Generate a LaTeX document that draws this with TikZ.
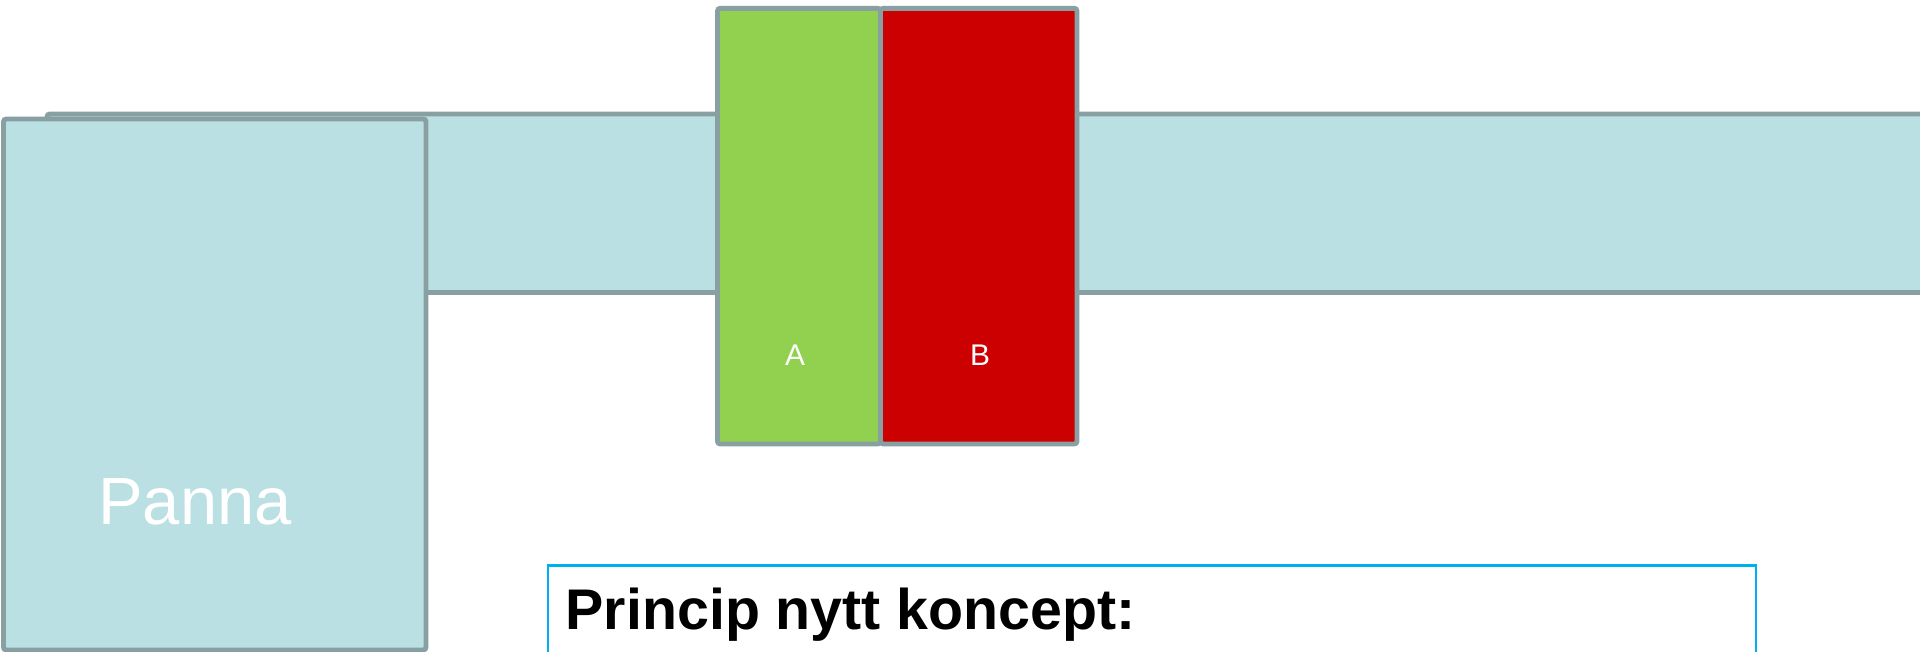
\documentclass[tikz,border=0pt]{standalone}
\usepackage{fontspec}
\setmainfont{Liberation Sans}
\usetikzlibrary{positioning}
\tikzset{part/.style = {draw = mframe, line width = 1.4pt, rounded corners = 0.8pt}}
\tikzset{lbl/.style = {text = white, inner sep = 0}}
\definecolor{mframe}{RGB}{137, 160, 163}
\definecolor{mband}{RGB}{187, 224, 227}
\definecolor{mgreen}{RGB}{146, 208, 80}
\definecolor{mred}{RGB}{204, 0, 0}
\definecolor{mcyan}{RGB}{0, 176, 240}

\begin{document}
\begin{tikzpicture}[x = 0.01cm, y = -0.01cm]
      \useasboundingbox (0, 0) rectangle (1920, 652);
      \clip (0, 0) rectangle (1920, 652);

      \draw [part, fill = mband] (47, 114) rectangle (1960, 292.5);
      \draw [part, fill = mband] (3.5, 119) rectangle (426, 650);
      \node [lbl, anchor = base, font = \fontsize{19}{23}\selectfont] (panna) at (195, 525) {Panna};

      \draw [part, fill = mgreen] (717.5, 8.3) rectangle (880.5, 444);
      \draw [part, fill = mred] (880.5, 8.3) rectangle (1077, 444);
      \node [lbl, font = \fontsize{8.5}{10}\selectfont] (a) at (795, 355) {A};
      \node [lbl, font = \fontsize{8.5}{10}\selectfont] (b) at (980, 355) {B};

      \draw [draw = mcyan, line width = 0.7pt, fill = white] (548, 565.7) rectangle (1756, 700);
      \node [anchor = base west, inner sep = 0, font = \fontsize{16.3}{19}\selectfont\bfseries] (princip) at (565, 630) {Princip nytt koncept:};
    \end{tikzpicture}
\end{document}
